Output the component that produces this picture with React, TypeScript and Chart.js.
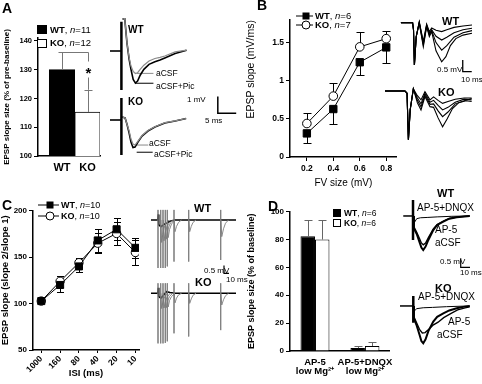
import React, { useEffect, useRef } from 'react';
import { Chart, registerables } from 'chart.js';

Chart.register(...registerables);

const SANS = "'Liberation Sans', Arial, Helvetica, sans-serif";
const NARROW = "'Liberation Sans Narrow', 'Arial Narrow', 'Liberation Sans', Arial, sans-serif";

// ---------------- Panel A ----------------
const aGroups = ['WT', 'KO'];
const aMeans = [130, 115.3];
const aErrors = [6, 7.7];
const aYTicks = [100, 110, 120, 130, 140];
const aSigLevel = 136;
const aSigText = '*';
const aYTitle = 'EPSP slope size (% of pre-baseline)';

// ---------------- Panel B ----------------
const bFv = [0.2, 0.4, 0.6, 0.8];
const bWT = [0.31, 0.63, 1.245, 1.44];
const bWTErr = [0.13, 0.19, 0.17, 0.21];
const bKO = [0.44, 0.8, 1.447, 1.555];
const bKOErr = [0.14, 0.17, 0.19, 0.1];
const bYTicks = [0, 0.5, 1, 1.5];
const bYTickLabels = ['0', '0.5', '1', '1.5'];
const bXTicks = [0.2, 0.4, 0.6, 0.8];

// ---------------- Panel C ----------------
const cIsi = ['1000', '160', '80', '40', '20', '10'];
const cWT = [102.7, 120, 140, 168, 180, 160];
const cWTErr = [2, 8, 6, 12, 12, 11];
const cKO = [102.7, 124, 144, 165, 175.5, 155];
const cKOErr = [2, 6, 5, 11, 12, 13];
const cYTicks = [50, 100, 150, 200];

// ---------------- Panel D ----------------
const dConds = [['AP-5', 'low Mg²⁺'], ['AP-5+DNQX', 'low Mg²⁺']];
const dWT = [82.4, 2.1];
const dWTErr = [11.5, 1.4];
const dKO = [80, 3.6];
const dKOErr = [14, 3.1];
const dYTicks = [0, 20, 40, 60, 80, 100];

// ---------------- Traces (time in ms, voltage in mV) ----------------
const aWtBaseline = [[0, 0], [3.0, 0]];
const aWtArtifact = [[3.1, 1.75], [3.1, -2.34]];
const aWtPic = [[3.4, 1.9], [4.0, 1.95], [4.6, 0.5], [5.2, -0.5], [5.7, -1.1], [6.3, -1.7], [6.9, -1.92], [7.5, -1.8], [8.2, -1.45], [9.2, -1.1], [10.6, -0.8], [12.2, -0.65], [13.6, -0.54], [14.9, -0.42], [17.7, -0.15], [20.8, 0.05]];
const aWtCsf = [[3.4, 1.9], [4.0, 1.95], [4.6, 0.5], [5.2, -0.4], [5.7, -0.9], [6.3, -1.22], [6.9, -1.35], [7.5, -1.3], [8.2, -1.1], [9.2, -0.85], [10.6, -0.6], [12.2, -0.45], [13.6, -0.38], [14.9, -0.3], [17.7, -0.05], [20.8, 0.05]];
const aWtCsfLead = [[7.25, -1.34], [11.8, -1.34]];
const aWtPicLead = [[6.8, -1.93], [11.8, -1.93]];
const aKoBaseline = [[0, 0], [3.0, 0]];
const aKoArtifact = [[3.1, 1.32], [3.1, -2.1]];
const aKoPic = [[3.3, 0.18], [4.1, 0.12], [4.6, -0.24], [5.2, -0.78], [5.7, -1.32], [6.25, -1.65], [6.8, -1.62], [7.6, -1.32], [8.7, -0.96], [10.3, -0.66], [12.2, -0.42], [14.9, -0.18], [17.7, -0.06], [20.7, 0.09]];
const aKoCsf = [[3.3, 0.18], [4.1, 0.12], [4.6, -0.24], [5.2, -0.66], [5.7, -1.14], [6.25, -1.44], [6.8, -1.5], [7.6, -1.26], [8.7, -0.93], [10.3, -0.63], [12.2, -0.4], [14.9, -0.16], [17.7, -0.05], [20.7, 0.09]];
const aKoCsfLead = [[7.25, -1.5], [10.4, -1.5]];
const aKoPicLead = [[7.25, -1.93], [11.6, -1.93]];
const aScaleBar = [[29.3, 1.4], [29.3, 0.4], [34.3, 0.4]];

const bWtSweeps = [
  [[1, 0], [14, 0], [15, -0.3], [16, -1.81], [18, -0.6], [21.4, 0.04], [25.9, -0.81], [29.6, -0.06], [32.6, -0.38], [35.2, -0.23], [40, -0.32], [46.3, -0.38], [52, -0.3], [60, -0.2], [70, -0.14], [80, -0.1]],
  [[1, 0], [14, 0], [15, -0.3], [16, -1.81], [18, -0.6], [21.4, 0.02], [25.9, -0.88], [29.6, -0.1], [32.6, -0.45], [35.2, -0.3], [40, -0.58], [46.3, -0.74], [52, -0.62], [60, -0.43], [70, -0.3], [80, -0.24]],
  [[1, 0], [14, 0], [15, -0.3], [16, -1.81], [18, -0.6], [21.4, 0], [25.9, -0.95], [29.6, -0.13], [32.6, -0.52], [35.2, -0.34], [40, -0.85], [46.3, -1.17], [52, -0.98], [60, -0.62], [70, -0.43], [80, -0.34]],
  [[1, 0], [14, 0], [15, -0.3], [16, -1.81], [18, -0.6], [21.4, -0.02], [25.9, -1.03], [29.6, -0.17], [32.6, -0.6], [35.2, -0.38], [40, -1.2], [46.3, -1.67], [51, -1.45], [56, -0.98], [62, -0.68], [70, -0.53], [80, -0.45]],
];
const bScaleBar = [[69.7, -1.594], [69.7, -2.094], [79.7, -2.094]];
const bKoSweeps = [
  [[0, 0], [22.2, 0], [24.5, -0.1], [26, -2.09], [28, -0.8], [31.5, 0.09], [36, -0.2], [40, -0.38], [44.4, -0.03], [50, -0.38], [54, -0.25], [59, -0.4], [64, -0.53], [70, -0.45], [78, -0.35], [88, -0.3], [96.3, -0.3]],
  [[0, 0], [22.2, 0], [24.5, -0.1], [26, -2.09], [28, -0.8], [31.5, 0.09], [36, -0.3], [40, -0.55], [44.4, -0.1], [50, -0.48], [54, -0.4], [59, -0.62], [64, -0.81], [70, -0.7], [78, -0.48], [88, -0.35], [96.3, -0.38]],
  [[0, 0], [22.2, 0], [24.5, -0.1], [26, -2.09], [28, -0.8], [31.5, 0.09], [36, -0.4], [40, -0.68], [44.4, -0.17], [50, -0.57], [54, -0.55], [59, -0.85], [64, -1.1], [70, -0.9], [78, -0.55], [88, -0.42], [96.3, -0.32]],
  [[0, 0], [22.2, 0], [24.5, -0.1], [26, -2.09], [28, -0.8], [31.5, 0.09], [36, -0.5], [40, -0.81], [44.4, -0.24], [50, -0.67], [54, -0.7], [59, -1.15], [64, -1.53], [69, -1.2], [75, -0.75], [82, -0.5], [90, -0.42], [96.3, -0.45]],
];

const cStimTimes = [16, 21.4, 26, 30.6, 34.6, 48, 77.4, 141.4];
const cStimTop = 0.63;
const cWtStimBottom = [-3.0, -3.0, -3.0, -3.0, -2.9, -2.6, -2.6, -2.5];
const cKoStimBottom = [-3.13, -3.13, -3.13, -3.1, -3.0, -2.5, -2.7, -2.3];
const cWtBlack = [[2, 0], [15.5, 0], [16.5, 0.35], [17.5, -0.3], [22, -0.42], [27, -0.3], [32, -0.2], [40, -0.08], [50, 0], [172, 0]];
const cKoBlack = [[2, 0], [15.5, 0], [16.5, 0.35], [17.5, -0.2], [22, -0.3], [27, -0.12], [33, 0.1], [40, 0.05], [50, 0], [172, 0]];
const cWtDips = [
  [[21.8, 0], [23.2, -1.4], [25.5, -0.9], [28, -0.5], [32, -0.2], [38, 0]],
  [[26.4, 0], [28, -1.3], [30.5, -0.8], [34, -0.4], [40, -0.1]],
  [[31, 0], [32.5, -1.2], [35, -0.7], [39, -0.3], [45, 0]],
  [[35, 0], [36.5, -1.1], [39, -0.6], [43, -0.25], [50, 0]],
  [[48.4, 0], [50, -0.73], [53, -0.4], [57, -0.15], [63, 0]],
  [[77.8, 0], [79.4, -0.73], [82.5, -0.4], [86, -0.15], [92, 0]],
  [[141.8, 0], [143.5, -1.04], [147, -0.55], [151, -0.2], [157, 0]],
];
const cKoDips = [
  [[21.8, 0], [23.2, -0.95], [25.5, -0.6], [28, -0.3], [34, 0]],
  [[26.4, 0], [28, -0.92], [30.5, -0.55], [34, -0.25], [40, 0]],
  [[31, 0], [32.5, -0.9], [35, -0.5], [39, -0.2], [45, 0]],
  [[35, 0], [36.5, -0.85], [39, -0.45], [43, -0.2], [50, 0]],
  [[48.4, 0], [50, -0.6], [53, -0.3], [57, -0.1], [63, 0]],
  [[77.8, 0], [79.4, -0.63], [82.5, -0.35], [86, -0.12], [92, 0]],
  [[141.8, 0], [143.5, -0.73], [147, -0.4], [151, -0.15], [157, 0]],
];
const cScaleBar = [[148, -2.84], [148, -3.34], [158, -3.34]];

const dWtBaseline = [[3.5, 0], [13.5, 0]];
const dWtArtifact = [[14, 0.89], [14, -1.33]];
const dWtCsf = [[14.3, 0], [15, -0.7], [18, -1.0], [21, -1.45], [23, -1.75], [25, -1.89], [27.5, -1.7], [30.5, -1.33], [35.8, -0.78], [40, -0.5], [46.6, -0.31], [53, -0.15], [61, -0.07], [75, 0]];
const dWtAp5 = [[14.3, 0], [15, -0.6], [18, -0.9], [21, -1.25], [23, -1.5], [25, -1.6], [27.5, -1.5], [30.5, -1.2], [35.8, -0.72], [40, -0.48], [46.6, -0.28], [53, -0.14], [61, -0.06], [75, 0]];
const dWtDnqx = [[14.3, 0], [15, -0.4], [18, -0.15], [22, -0.1], [30, -0.08], [40, -0.05], [55, -0.02], [75, 0]];
const dScaleBar = [[65.3, -2.35], [65.3, -2.85], [75.3, -2.85]];
const dKoBaseline = [[0, 0], [13.8, 0]];
const dKoArtifact = [[14.3, 0.56], [14.3, -0.93]];
const dKoCsf = [[14.5, 0], [15, -0.7], [18, -1.1], [21, -1.6], [23, -1.95], [25, -2.07], [27.5, -1.85], [30.5, -1.4], [35.8, -0.87], [40, -0.6], [46.6, -0.41], [53, -0.25], [61, -0.13], [68, -0.05], [75, 0]];
const dKoAp5 = [[14.5, 0], [15, -0.6], [18, -0.95], [21, -1.3], [24, -1.5], [27, -1.48], [31, -1.3], [36, -1.05], [41, -0.9], [47, -0.65], [55, -0.41], [62, -0.22], [70, -0.1], [75, -0.05]];
const dKoDnqx = [[14.5, 0], [15, -0.3], [18, -0.15], [25, -0.1], [35, -0.08], [50, -0.04], [75, 0]];

function drawErrorBars(chart: any, layer: string) {
  const ctx = chart.ctx;
  chart.data.datasets.forEach((ds: any, di: number) => {
    const eb = ds.errorBars;
    if (!eb || eb.layer !== layer) return;
    const meta = chart.getDatasetMeta(di);
    const yScale = chart.scales[meta.yAxisID];
    ctx.save();
    ctx.strokeStyle = eb.color;
    ctx.lineWidth = eb.width;
    meta.data.forEach((el: any, i: number) => {
      const raw = ds.data[i];
      const v = typeof raw === 'number' ? raw : raw.y;
      const e = eb.values[i];
      if (!e) return;
      const x = Math.round(el.x) + 0.5;
      const y0 = yScale.getPixelForValue(v);
      const ends: number[] = [];
      if (eb.dir !== 'down') ends.push(v + e);
      if (eb.dir !== 'up') ends.push(v - e);
      ends.forEach((end) => {
        const y1 = Math.round(yScale.getPixelForValue(end)) + 0.5;
        ctx.beginPath();
        ctx.moveTo(x, y0);
        ctx.lineTo(x, y1);
        ctx.moveTo(x - eb.cap / 2, y1);
        ctx.lineTo(x + eb.cap / 2, y1);
        ctx.stroke();
      });
    });
    ctx.restore();
  });
}

const errorBarPlugin = {
  id: 'errorBarsCustom',
  beforeDatasetsDraw(chart: any) { drawErrorBars(chart, 'behind'); },
  afterDatasetsDraw(chart: any) { drawErrorBars(chart, 'front'); },
};

const bracketPlugin = {
  id: 'sigBracket',
  afterDatasetsDraw(chart: any) {
    const { ctx } = chart;
    const xs = chart.scales.x;
    const ys = chart.scales.y;
    const x1 = Math.round(xs.getPixelForValue(1)) + 0.5;
    const x2 = Math.round(xs.getPixelForValue(2)) + 0.5;
    const yTop = Math.round(ys.getPixelForValue(aSigLevel)) + 0.5;
    const yKo = ys.getPixelForValue(aMeans[1] + aErrors[1]);
    ctx.save();
    ctx.strokeStyle = '#777';
    ctx.lineWidth = 1;
    ctx.beginPath();
    ctx.moveTo(x1, yTop);
    ctx.lineTo(x2, yTop);
    ctx.lineTo(x2, yTop + 9);
    ctx.moveTo(x2, yTop + 25);
    ctx.lineTo(x2, yKo);
    ctx.stroke();
    ctx.fillStyle = '#000';
    ctx.font = `bold 15px ${SANS}`;
    ctx.textAlign = 'center';
    ctx.textBaseline = 'middle';
    ctx.fillText(aSigText, x2, yTop + 21);
    ctx.restore();
  },
};

const tickFont = (size: number) => ({ family: SANS, size, weight: 'bold' as const });

function yAxis(opts: any) {
  return {
    min: opts.min,
    max: opts.max,
    afterBuildTicks: (s: any) => { s.ticks = opts.ticks.map((v: number) => ({ value: v })); },
    afterFit: (s: any) => { s.width = opts.width; },
    ticks: {
      font: tickFont(opts.fontSize),
      color: '#000',
      padding: 2,
      callback: opts.callback || ((v: any) => String(v)),
    },
    grid: { drawOnChartArea: false, color: '#000', tickLength: 4, lineWidth: 1 },
    border: { display: true, color: '#000', width: 1.5 },
    title: {
      display: true,
      text: opts.title,
      color: '#000',
      align: opts.titleAlign || 'center',
      font: { family: SANS, size: opts.titleSize, weight: opts.titleWeight || 'bold' },
      padding: { top: opts.titlePad, bottom: 0 },
    },
  };
}

const baseOptions = (padding: any) => ({
  responsive: false,
  animation: false,
  events: [],
  layout: { padding },
  plugins: { legend: { display: false }, tooltip: { enabled: false }, title: { display: false } },
});

function configA() {
  return {
    type: 'bar',
    data: {
      datasets: [{
        data: aMeans.map((v, i) => ({ x: i + 1, y: v })),
        backgroundColor: ['#000', '#fff'],
        borderColor: '#000',
        borderWidth: 1,
        barThickness: 25.5,
        errorBars: { values: aErrors, dir: 'up', color: '#777', width: 1, cap: 8, layer: 'front' },
      }],
    },
    options: {
      ...baseOptions({ left: 0, right: 15, top: 38, bottom: 0 }),
      scales: {
        x: {
          type: 'linear',
          offset: false,
          min: 0.059,
          max: 2.49,
          afterBuildTicks: (s: any) => { s.ticks = aGroups.map((_, i) => ({ value: i + 1 })); },
          afterFit: (s: any) => { s.height = 34; s.paddingLeft = 0; s.paddingRight = 0; },
          ticks: { callback: (v: any) => aGroups[v - 1], font: tickFont(11), color: '#000', padding: 5, maxRotation: 0, autoSkip: false },
          grid: { display: false, drawTicks: false, offset: false },
          border: { display: true, color: '#000', width: 1.5 },
        },
        y: yAxis({ min: 100, max: 141, ticks: aYTicks, width: 38, fontSize: 7.5, title: aYTitle, titleSize: 8, titlePad: 2 }),
      },
    },
    plugins: [errorBarPlugin, bracketPlugin],
  };
}

function configB() {
  return {
    type: 'line',
    data: {
      datasets: [
        {
          data: bFv.map((x, i) => ({ x, y: bWT[i] })),
          borderColor: '#000', borderWidth: 1,
          pointStyle: 'rect', pointRadius: 5.2, pointBackgroundColor: '#000', pointBorderColor: '#000', pointBorderWidth: 1,
          errorBars: { values: bWTErr, dir: 'down', color: '#000', width: 1, cap: 8, layer: 'behind' },
        },
        {
          data: bFv.map((x, i) => ({ x, y: bKO[i] })),
          borderColor: '#000', borderWidth: 1,
          pointStyle: 'circle', pointRadius: 4.3, pointBackgroundColor: '#fff', pointBorderColor: '#000', pointBorderWidth: 1,
          errorBars: { values: bKOErr, dir: 'up', color: '#000', width: 1, cap: 8, layer: 'behind' },
        },
      ],
    },
    options: {
      ...baseOptions({ left: 0, right: 5, top: 20, bottom: 0 }),
      scales: {
        x: {
          type: 'linear', min: 0.0725, max: 0.88,
          afterBuildTicks: (s: any) => { s.ticks = bXTicks.map((v) => ({ value: v })); },
          afterFit: (s: any) => { s.height = 33; },
          ticks: { font: tickFont(8.5), color: '#000', padding: 3, maxRotation: 0, callback: (v: any) => String(v) },
          grid: { drawOnChartArea: false, color: '#000', tickLength: 4 },
          border: { display: true, color: '#000', width: 1.5 },
          title: { display: true, text: 'FV size (mV)', color: '#000', font: { family: SANS, size: 10 }, padding: { top: 0, bottom: 1 } },
        },
        y: yAxis({ min: 0, max: 1.8, ticks: bYTicks, width: 49, fontSize: 8.5, title: 'EPSP slope (mV/ms)', titleSize: 10.5, titleWeight: 'normal', titlePad: 4, titleAlign: 'end',
          callback: (v: any) => bYTickLabels[bYTicks.indexOf(v)] }),
      },
    },
    plugins: [errorBarPlugin],
  };
}

function configC() {
  return {
    type: 'line',
    data: {
      datasets: [
        {
          data: cWT.map((y, i) => ({ x: i, y })),
          borderColor: '#000', borderWidth: 1,
          pointStyle: 'rect', pointRadius: 5, pointBackgroundColor: '#000', pointBorderColor: '#000', pointBorderWidth: 1,
          errorBars: { values: cWTErr, dir: 'both', color: '#000', width: 1, cap: 7, layer: 'behind' },
        },
        {
          data: cKO.map((y, i) => ({ x: i, y })),
          borderColor: '#000', borderWidth: 1,
          pointStyle: 'circle', pointRadius: 4.2, pointBackgroundColor: '#fff', pointBorderColor: '#000', pointBorderWidth: 1,
          errorBars: { values: cKOErr, dir: 'both', color: '#000', width: 1, cap: 7, layer: 'behind' },
        },
      ],
    },
    options: {
      ...baseOptions({ left: 0, right: 11, top: 20.7, bottom: 0 }),
      scales: {
        x: {
          type: 'linear', min: -0.44, max: 5.19,
          afterBuildTicks: (s: any) => { s.ticks = cIsi.map((_, i) => ({ value: i })); },
          afterFit: (s: any) => { s.height = 34; },
          ticks: { font: tickFont(8.5), color: '#000', padding: 1, minRotation: 45, maxRotation: 45, autoSkip: false, callback: (v: any) => cIsi[v] },
          grid: { drawOnChartArea: false, color: '#000', tickLength: 3 },
          border: { display: true, color: '#000', width: 1.5 },
          title: { display: true, text: 'ISI (ms)', color: '#000', font: { family: SANS, size: 9.5, weight: 'bold' }, padding: { top: 0, bottom: 5 } },
        },
        y: yAxis({ min: 50, max: 200, ticks: cYTicks, width: 33, fontSize: 8, title: 'EPSP slope (slope 2/slope 1)', titleSize: 9.5, titlePad: 0 }),
      },
    },
    plugins: [errorBarPlugin],
  };
}

function configD() {
  return {
    type: 'bar',
    data: {
      labels: dConds,
      datasets: [
        {
          data: dWT, backgroundColor: '#000', borderColor: '#000', borderWidth: 1,
          categoryPercentage: 0.58, barPercentage: 1,
          errorBars: { values: dWTErr, dir: 'up', color: '#666', width: 1, cap: 8, layer: 'front' },
        },
        {
          data: dKO, backgroundColor: '#fff', borderColor: '#000', borderWidth: 1,
          categoryPercentage: 0.58, barPercentage: 1,
          errorBars: { values: dKOErr, dir: 'up', color: '#666', width: 1, cap: 8, layer: 'front' },
        },
      ],
    },
    options: {
      ...baseOptions({ left: 0, right: 7, top: 21.7, bottom: 0 }),
      scales: {
        x: {
          afterFit: (s: any) => { s.height = 33; },
          ticks: { font: { family: SANS, size: 9.5, weight: 'bold', lineHeight: 0.95 }, color: '#000', padding: 7, maxRotation: 0, autoSkip: false },
          grid: { display: false, drawTicks: false },
          border: { display: true, color: '#000', width: 1.5 },
        },
        y: yAxis({ min: 0, max: 100, ticks: dYTicks, width: 49, fontSize: 8, title: 'EPSP slope size (% of baseline)', titleSize: 9, titlePad: 5 }),
      },
    },
    plugins: [errorBarPlugin],
  };
}

type Seg = { points: number[][]; color: string; width: number };

function traceConfig(xMin: number, xMax: number, yMin: number, yMax: number, segs: Seg[]) {
  return {
    type: 'line',
    data: {
      datasets: segs.map((s) => ({
        data: s.points.map((p) => ({ x: p[0], y: p[1] })),
        borderColor: s.color,
        borderWidth: s.width,
        pointRadius: 0,
        tension: 0,
        fill: false,
      })),
    },
    options: {
      ...baseOptions(0),
      scales: {
        x: { type: 'linear', display: false, min: xMin, max: xMax },
        y: { type: 'linear', display: false, min: yMin, max: yMax },
      },
    },
  };
}

function ChartCanvas({ left, top, width, height, make }: any) {
  const ref = useRef<HTMLCanvasElement | null>(null);
  useEffect(() => {
    if (!ref.current) return;
    const chart = new Chart(ref.current, make());
    return () => chart.destroy();
  }, []);
  return (
    <div style={{ position: 'absolute', left, top, width, height }}>
      <canvas ref={ref} width={width} height={height} style={{ width, height, display: 'block' }} />
    </div>
  );
}

function T({ x, y, children, size = 9, bold = false, family = SANS, center = false }: any) {
  return (
    <div style={{
      position: 'absolute', left: x, top: y,
      transform: center ? 'translate(-50%, -50%)' : 'translateY(-50%)',
      fontFamily: family, fontSize: size, fontWeight: bold ? 'bold' : 'normal',
      whiteSpace: 'nowrap', lineHeight: 1, color: '#000',
    }}>{children}</div>
  );
}

function LegendText({ g, n }: any) {
  return (<><b>{g}</b>, <i>n</i>={n}</>);
}

function SquareKey({ x, y, w, h, fill }: any) {
  return (
    <div style={{ position: 'absolute', left: x, top: y - h / 2, width: w, height: h, background: fill, border: '1px solid #000', boxSizing: 'border-box' }} />
  );
}

function LineKey({ x, y, w, mx, marker }: any) {
  return (
    <svg style={{ position: 'absolute', left: x, top: y - 6 }} width={w} height={12}>
      <line x1={0} y1={6} x2={w} y2={6} stroke="#000" strokeWidth={1} />
      {marker === 'rect'
        ? <rect x={mx - 3.5} y={2.5} width={7} height={7} fill="#000" />
        : <circle cx={mx} cy={6} r={4} fill="#fff" stroke="#000" strokeWidth={1} />}
    </svg>
  );
}

const GRAY = '#8a8a8a';
const STIM = '#777';

export default function App() {
  return (
    <div style={{ position: 'absolute', left: 0, top: 0, width: 482, height: 384, overflow: 'hidden', background: '#fff', fontFamily: SANS }}>
      <ChartCanvas left={0} top={0} width={115} height={190} make={configA} />
      <ChartCanvas left={241} top={0} width={162} height={190} make={configB} />
      <ChartCanvas left={0} top={190} width={150} height={194} make={configC} />
      <ChartCanvas left={241} top={190} width={160} height={194} make={configD} />

      <ChartCanvas left={110} top={18} width={80} height={80} make={() => traceConfig(0, 21.74, -2.814, 1.976, [
        { points: aWtBaseline, color: '#000', width: 1.6 },
        { points: aWtArtifact, color: '#000', width: 2.5 },
        { points: aWtCsf, color: GRAY, width: 1.2 },
        { points: aWtPic, color: '#000', width: 1.6 },
        { points: aWtCsfLead, color: GRAY, width: 1 },
        { points: aWtPicLead, color: '#000', width: 1 },
      ])} />
      <ChartCanvas left={110} top={95} width={130} height={70} make={() => traceConfig(0, 35.33, -2.695, 1.497, [
        { points: aKoBaseline, color: '#000', width: 1.6 },
        { points: aKoArtifact, color: '#000', width: 2.5 },
        { points: aKoCsf, color: GRAY, width: 1.2 },
        { points: aKoPic, color: '#000', width: 1.6 },
        { points: aKoCsfLead, color: GRAY, width: 1 },
        { points: aKoPicLead, color: '#000', width: 1 },
        { points: aScaleBar, color: '#000', width: 1.5 },
      ])} />

      <ChartCanvas left={398} top={12} width={84} height={63} make={() => traceConfig(-2.22, 91.1, -2.235, 0.457, [
        ...bWtSweeps.map((p) => ({ points: p, color: '#000', width: 1.1 })),
        { points: bScaleBar, color: '#000', width: 1.3 },
      ])} />
      <ChartCanvas left={383} top={80} width={99} height={65} make={() => traceConfig(-2.22, 107.8, -2.31, 0.47, [
        ...bKoSweeps.map((p) => ({ points: p, color: '#000', width: 1.1 })),
      ])} />

      <ChartCanvas left={150} top={204} width={90} height={72} make={() => traceConfig(0, 180, -3.5, 1.0, [
        ...cStimTimes.map((t, i) => ({ points: [[t, cStimTop], [t, cWtStimBottom[i]]], color: STIM, width: 0.7 })),
        ...cWtDips.map((p) => ({ points: p, color: GRAY, width: 1 })),
        { points: cWtBlack, color: '#000', width: 1.6 },
        { points: cScaleBar, color: '#000', width: 1.2 },
      ])} />
      <ChartCanvas left={150} top={277} width={90} height={72} make={() => traceConfig(0, 180, -3.48, 1.02, [
        ...cStimTimes.map((t, i) => ({ points: [[t, cStimTop], [t, cKoStimBottom[i]]], color: STIM, width: 0.7 })),
        ...cKoDips.map((p) => ({ points: p, color: GRAY, width: 1 })),
        { points: cKoBlack, color: '#000', width: 1.6 },
      ])} />

      <ChartCanvas left={398} top={194} width={80} height={78} make={() => traceConfig(-2.15, 83.9, -3.11, 1.22, [
        { points: dWtBaseline, color: '#000', width: 1.5 },
        { points: dWtArtifact, color: '#000', width: 2.5 },
        { points: dWtDnqx, color: '#000', width: 1 },
        { points: dWtAp5, color: '#000', width: 1.3 },
        { points: dWtCsf, color: '#000', width: 2 },
        { points: dScaleBar, color: '#000', width: 1.2 },
      ])} />
      <ChartCanvas left={398} top={286} width={80} height={66} make={() => traceConfig(-2.15, 83.9, -2.56, 1.11, [
        { points: dKoBaseline, color: '#000', width: 1.5 },
        { points: dKoArtifact, color: '#000', width: 2.5 },
        { points: dKoDnqx, color: '#000', width: 1 },
        { points: dKoAp5, color: '#000', width: 1.3 },
        { points: dKoCsf, color: '#000', width: 2 },
      ])} />

      <T x={2} y={8} size={14} bold>A</T>
      <T x={257} y={5} size={14} bold>B</T>
      <T x={2} y={205} size={14} bold>C</T>
      <T x={268} y={206} size={14} bold>D</T>

      <SquareKey x={37} y={29.5} w={10} h={9} fill="#000" />
      <T x={50} y={29.5} size={9.5}><LegendText g="WT" n="11" /></T>
      <SquareKey x={37} y={43} w={10} h={9} fill="#fff" />
      <T x={50} y={43} size={9.5}><LegendText g="KO" n="12" /></T>

      <T x={128} y={30} size={10} bold>WT</T>
      <T x={156} y={73.3} size={8.5}>aCSF</T>
      <T x={156} y={85.5} size={8.5}>aCSF+Pic</T>
      <T x={128} y={101.7} size={10} bold>KO</T>
      <T x={149} y={143.3} size={8.5}>aCSF</T>
      <T x={154} y={154.3} size={8.5}>aCSF+Pic</T>
      <T x={187} y={100} size={8} family={NARROW}>1 mV</T>
      <T x={205} y={120.5} size={8} family={NARROW}>5 ms</T>

      <LineKey x={296} y={16} w={17} mx={10} marker="rect" />
      <T x={315} y={16} size={9.5}><LegendText g="WT" n="6" /></T>
      <LineKey x={296} y={24.5} w={17} mx={10} marker="circle" />
      <T x={315} y={24.5} size={9.5}><LegendText g="KO" n="7" /></T>

      <T x={442} y={20.7} size={11} bold>WT</T>
      <T x={437} y={70} size={8} family={NARROW}>0.5 mV</T>
      <T x={461} y={80} size={8} family={NARROW}>10 ms</T>
      <T x={438} y={91.7} size={11} bold>KO</T>

      <LineKey x={38} y={205} w={21} mx={12} marker="rect" />
      <T x={61} y={205} size={9}><LegendText g="WT" n="10" /></T>
      <LineKey x={38} y={215.5} w={21} mx={12} marker="circle" />
      <T x={61} y={215.5} size={9}><LegendText g="KO" n="10" /></T>

      <T x={194} y={208.3} size={11} bold>WT</T>
      <T x={204} y={271} size={8} family={NARROW}>0.5 mV</T>
      <T x={226} y={279.5} size={8} family={NARROW}>10 ms</T>
      <T x={195} y={282.3} size={11} bold>KO</T>

      <SquareKey x={333} y={213} w={8} h={8} fill="#000" />
      <T x={344} y={213} size={8.5}><LegendText g="WT" n="6" /></T>
      <SquareKey x={333} y={223} w={8} h={8} fill="#fff" />
      <T x={344} y={223} size={8.5}><LegendText g="KO" n="6" /></T>

      <T x={437} y={193} size={11} bold>WT</T>
      <T x={417} y={208.3} size={10}>AP-5+DNQX</T>
      <T x={435} y={230} size={10}>AP-5</T>
      <T x={435} y={243.3} size={10}>aCSF</T>
      <T x={440} y={261.7} size={8} family={NARROW}>0.5 mV</T>
      <T x={460} y={273.3} size={8} family={NARROW}>10 ms</T>
      <T x={435} y={288.3} size={11} bold>KO</T>
      <T x={418} y={297.3} size={10}>AP-5+DNQX</T>
      <T x={448} y={321.7} size={10}>AP-5</T>
      <T x={437} y={335} size={10}>aCSF</T>
    </div>
  );
}
